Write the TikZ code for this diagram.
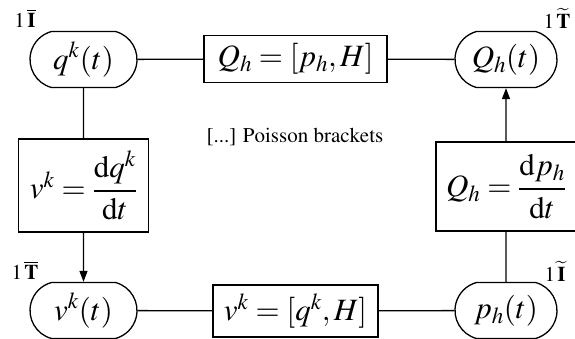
\documentclass[tikz,border=0pt]{standalone}
\usepackage{amsmath}
\usepackage{mathptmx}
\usetikzlibrary{shapes.misc,arrows.meta}
\newcommand\nodefs{\fontsize{31}{37}\selectfont}
\newcommand\labfs{\fontsize{21}{25}\selectfont}
\newcommand\txtfs{\usefont{OT1}{ptm}{m}{n}\fontsize{21}{25}\selectfont}
\begin{document}
\begin{tikzpicture}[x=1pt,y=1pt,
  state/.style={draw, line width=1.3pt, rounded rectangle, rounded rectangle arc length=150,
    minimum width=107pt, minimum height=56pt, inner sep=0pt, font=\nodefs},
  eqbox/.style={draw, line width=1.3pt, rectangle, inner sep=0pt, font=\nodefs},
  lab/.style={font=\labfs, inner sep=0pt},
  conn/.style={line width=1.3pt},
  arr/.style={line width=1.3pt, -{Triangle[length=11pt,width=8pt]}}]
\useasboundingbox (0,0) rectangle (575,339);
\node[state] (qk) at (83.5,279.5) {$q^k(t)$};
\node[state, minimum width=102pt] (Qh) at (506,279.5) {$Q_h(t)$};
\node[state] (vk) at (83.5,28.5) {$v^k(t)$};
\node[state, minimum width=102pt] (ph) at (506,28.5) {$p_h(t)$};
\node[eqbox, minimum width=183pt, minimum height=47pt] (Qbr) at (295.5,280) {$Q_h=[p_h,H]$};
\node[eqbox, minimum width=130pt, minimum height=93pt] (vdef) at (83.5,153.5) {$v^k=\dfrac{\mathrm{d}q^k}{\mathrm{d}t}$};
\node[eqbox, minimum width=140pt, minimum height=89pt] (Qdef) at (506,152.5) {$Q_h=\dfrac{\mathrm{d}p_h}{\mathrm{d}t}$};
\node[eqbox, minimum width=165pt, minimum height=52pt] (vbr) at (295.5,28) {$v^k=[q^k,H]$};
\node[font=\txtfs, inner sep=0pt] (note) at (295,202) {[...] Poisson brackets};
\node[lab] (l1) at (25,321) {$1\,\overline{\mathbf{I}}$};
\node[lab] (l2) at (557,321) {$1\,\widetilde{\mathbf{T}}$};
\node[lab] (l3) at (25,69) {$1\,\overline{\mathbf{T}}$};
\node[lab] (l4) at (555,68) {$1\,\widetilde{\mathbf{I}}$};
\draw[conn] (qk) -- (Qbr);
\draw[conn] (Qbr) -- (Qh);
\draw[conn] (vk) -- (vbr);
\draw[conn] (vbr) -- (ph);
\draw[conn] (qk) -- (vdef);
\draw[arr] (vdef) -- (vk);
\draw[conn] (ph) -- (Qdef);
\draw[arr] (Qdef) -- (Qh);
\end{tikzpicture}
\end{document}
